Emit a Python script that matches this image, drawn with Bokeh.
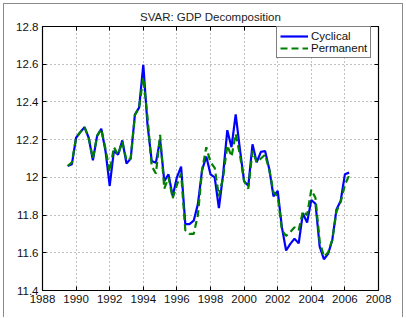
from bokeh.plotting import figure
from bokeh.models import (ColumnDataSource, LinearAxis, FixedTicker, Legend,
                          LegendItem, CustomJSTickFormatter, Range1d)
from bokeh.embed import file_html
from bokeh.resources import INLINE
import pandas as pd

# Quarterly observations, 1989Q3 .. 2006Q2
quarters = pd.period_range("1989Q3", "2006Q2", freq="Q")

cyclical = [
    12.06, 12.07, 12.21, 12.24, 12.266, 12.21, 12.09, 12.22, 12.258, 12.14,
    11.955, 12.14, 12.12, 12.196, 12.073, 12.10, 12.333, 12.37, 12.597, 12.28,
    12.087, 12.078, 12.20, 11.98, 12.016, 11.90, 12.00, 12.057, 11.752, 11.752,
    11.77, 11.858, 12.04, 12.11, 12.016, 12.00, 11.837, 12.016, 12.25, 12.16,
    12.334, 12.15, 11.98, 11.955, 12.175, 12.08, 12.135, 12.14, 12.043, 11.90,
    11.928, 11.735, 11.612, 11.647, 11.675, 11.65, 11.81, 11.76, 11.88, 11.86,
    11.632, 11.566, 11.594, 11.668, 11.83, 11.876, 12.016, 12.025,
]

permanent = [
    12.06, 12.08, 12.21, 12.24, 12.266, 12.21, 12.10, 12.22, 12.255, 12.15,
    12.03, 12.16, 12.12, 12.19, 12.09, 12.10, 12.33, 12.37, 12.53, 12.32,
    12.06, 12.02, 12.225, 11.94, 12.00, 11.89, 11.96, 12.02, 11.72, 11.70,
    11.70, 11.80, 12.04, 12.16, 12.08, 12.05, 11.90, 12.00, 12.17, 12.11,
    12.23, 12.12, 11.98, 11.94, 12.14, 12.08, 12.10, 12.12, 12.04, 11.92,
    11.90, 11.72, 11.69, 11.71, 11.735, 11.72, 11.82, 11.80, 11.935, 11.89,
    11.66, 11.58, 11.60, 11.67, 11.82, 11.87, 11.96, 12.01,
]

year_ticks = list(range(1988, 2009, 2))
value_ticks = [11.4, 11.6, 11.8, 12.0, 12.2, 12.4, 12.6, 12.8]

t = [q.year + (q.quarter - 1) / 4 for q in quarters]
src = ColumnDataSource(dict(t=t, cyc=cyclical, perm=permanent))

FONT = "Liberation Sans"

p = figure(width=400, height=314, output_backend="svg", toolbar_location=None,
           x_range=Range1d(1988, 2008), y_range=Range1d(11.4, 12.8),
           min_border_left=38, min_border_right=26, min_border_top=21,
           min_border_bottom=28, title="SVAR: GDP Decomposition")
p.margin = (3, 0, 0, 3)
p.styles = {"border-left": "1px solid #8a8a8a", "border-top": "1px solid #8a8a8a",
            "border-right": "1px solid #8a8a8a"}

p.title.align = "center"
p.title.text_font = FONT
p.title.text_font_size = "11.5px"
p.title.text_font_style = "normal"
p.title.text_color = "#222222"
p.title.offset = 0
p.title.standoff = 8

p.outline_line_color = "black"
p.outline_line_width = 1.2
p.outline_line_alpha = 1

fmt = CustomJSTickFormatter(code="return String(Number(tick.toFixed(1)));")
blank = CustomJSTickFormatter(code="return '';")

for ax in p.xaxis:
    ax.ticker = FixedTicker(ticks=year_ticks)
for ax in p.yaxis:
    ax.ticker = FixedTicker(ticks=value_ticks)
    ax.formatter = fmt

for ax in list(p.xaxis) + list(p.yaxis):
    ax.axis_line_color = "black"
    ax.major_tick_in = 4
    ax.major_tick_out = 0
    ax.minor_tick_line_color = None
    ax.major_label_text_font = FONT
    ax.major_label_text_font_size = "11.5px"
    ax.major_label_text_color = "#111111"
    ax.major_label_standoff = 4

# tick marks on the top and right edges of the box
top = LinearAxis(ticker=FixedTicker(ticks=year_ticks), formatter=blank,
                 major_tick_in=4, major_tick_out=0, minor_tick_line_color=None,
                 axis_line_color=None, major_label_standoff=0)
right = LinearAxis(ticker=FixedTicker(ticks=value_ticks), formatter=blank,
                   major_tick_in=4, major_tick_out=0, minor_tick_line_color=None,
                   axis_line_color=None, major_label_standoff=0)
p.add_layout(top, "above")
p.add_layout(right, "right")

p.xgrid.ticker = FixedTicker(ticks=year_ticks)
p.ygrid.ticker = FixedTicker(ticks=value_ticks)
for g in (p.xgrid, p.ygrid):
    g.grid_line_color = "#808080"
    g.grid_line_dash = "1 3"
    g.grid_line_width = 1

r_cyc = p.line("t", "cyc", source=src, line_color="#0000ff", line_width=2.2)
r_perm = p.line("t", "perm", source=src, line_color="#008000", line_width=2.2,
                line_dash="7 4")

legend = Legend(items=[LegendItem(label="Cyclical", renderers=[r_cyc]),
                       LegendItem(label="Permanent", renderers=[r_perm])],
                location=(234, 232))
legend.border_line_color = "black"
legend.border_line_width = 1
legend.background_fill_color = "white"
legend.background_fill_alpha = 1
legend.label_text_font = FONT
legend.label_text_font_size = "11.5px"
legend.label_text_color = "#111111"
legend.glyph_width = 28
legend.glyph_height = 12
legend.label_height = 12
legend.label_standoff = 3
legend.spacing = 0
legend.padding = 3
legend.margin = 0
p.add_layout(legend, "center")

open("out.html", "w").write(file_html(p, INLINE))
